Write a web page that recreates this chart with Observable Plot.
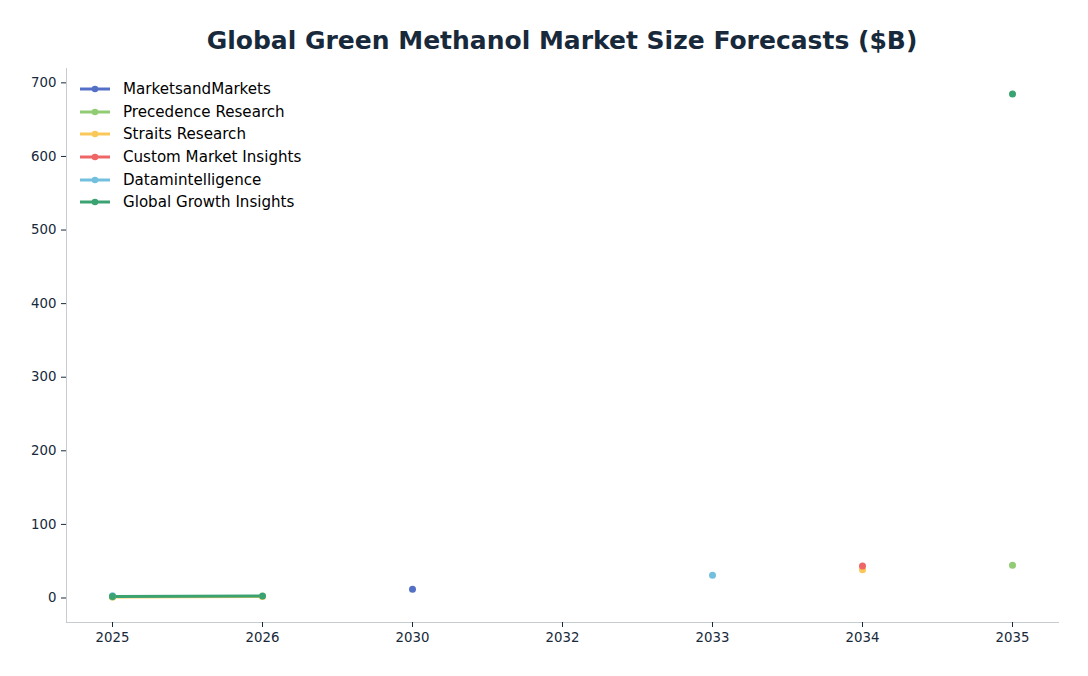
<!DOCTYPE html>
<html>
<head>
<meta charset="utf-8">
<script src="https://cdn.jsdelivr.net/npm/d3@7"></script>
<script src="https://cdn.jsdelivr.net/npm/@observablehq/plot@0.6"></script>
<style>
  html, body { margin: 0; padding: 0; background: #fff; }
  #wrap { position: relative; width: 1088px; height: 676px; font-family: "DejaVu Sans", sans-serif; }
  #title { box-sizing: border-box; height: 60px; padding: 26px 30px 0 66px; line-height: 30px; text-align: center;
           font-size: 25px; font-weight: bold; color: #17293a; }
  #legend { position: absolute; left: 80px; top: 78px; font-size: 15.1px; color: #000; }
  .item { display: flex; align-items: center; height: 22.6px; }
  .item svg { margin-right: 13px; }
</style>
</head>
<body>
<div id="wrap">
  <div id="title">Global Green Methanol Market Size Forecasts ($B)</div>
  <div id="chart"></div>
  <div id="legend"></div>
</div>
<script>
const years = ["2025", "2026", "2030", "2032", "2033", "2034", "2035"];
const seriesNames = ["MarketsandMarkets", "Precedence Research", "Straits Research", "Custom Market Insights", "Datamintelligence", "Global Growth Insights"];
const colors = ["#5470c6", "#91cc75", "#fac858", "#ee6666", "#73c0de", "#3ba272"];
// values per year (null = no forecast)
const marketsandMarkets    = [null, null, 11.8, null, null, null, null];
const precedenceResearch   = [1.3, null, null, null, null, null, 44.5];
const straitsResearch      = [1.4, 1.9, null, null, null, 38.5, null];
const customMarketInsights = [null, null, null, null, null, 43.5, null];
const datamintelligence    = [2.9, null, null, null, 31.0, null, null];
const globalGrowthInsights = [2.1, 2.8, null, null, null, null, 685];
const yTicks = [0, 100, 200, 300, 400, 500, 600, 700];

const allSeries = [marketsandMarkets, precedenceResearch, straitsResearch, customMarketInsights, datamintelligence, globalGrowthInsights];
const rows = [];
allSeries.forEach((vals, i) => {
  vals.forEach((v, j) => rows.push({series: seriesNames[i], year: years[j], value: v}));
});
const defined = rows.filter(d => d.value != null);

const chart = Plot.plot({
  width: 1088,
  height: 616,
  marginTop: 8,
  marginBottom: 54,
  marginLeft: 66,
  marginRight: 30,
  style: {fontFamily: "DejaVu Sans, sans-serif", fontSize: "13.3px", color: "#17293a", background: "#fff"},
  x: {type: "point", domain: years, padding: 0.3, label: null},
  y: {domain: [-33.3, 719.5], ticks: yTicks, label: null},
  color: {domain: seriesNames, range: colors},
  marks: [
    Plot.frame({anchor: "left", stroke: "#c6ccd0"}),
    Plot.frame({anchor: "bottom", stroke: "#c6ccd0"}),
    Plot.axisX({tickSize: 5, tickPadding: 5, fontSize: 13.3, label: null}),
    Plot.axisY({tickSize: 5, tickPadding: 5, fontSize: 13.3, label: null, ticks: yTicks}),
    Plot.line(rows, {x: "year", y: "value", z: "series", stroke: "series", strokeWidth: 3}),
    Plot.dot(defined, {x: "year", y: "value", fill: "series", r: 3.5})
  ]
});
document.getElementById("chart").appendChild(chart);

const legend = d3.select("#legend");
seriesNames.forEach((name, i) => {
  const item = legend.append("div").attr("class", "item");
  const s = item.append("svg").attr("width", 30).attr("height", 10);
  s.append("line").attr("x1", 0).attr("x2", 30).attr("y1", 5).attr("y2", 5).attr("stroke", colors[i]).attr("stroke-width", 3);
  s.append("circle").attr("cx", 15).attr("cy", 5).attr("r", 3.3).attr("fill", colors[i]);
  item.append("span").text(name);
});
</script>
</body>
</html>
